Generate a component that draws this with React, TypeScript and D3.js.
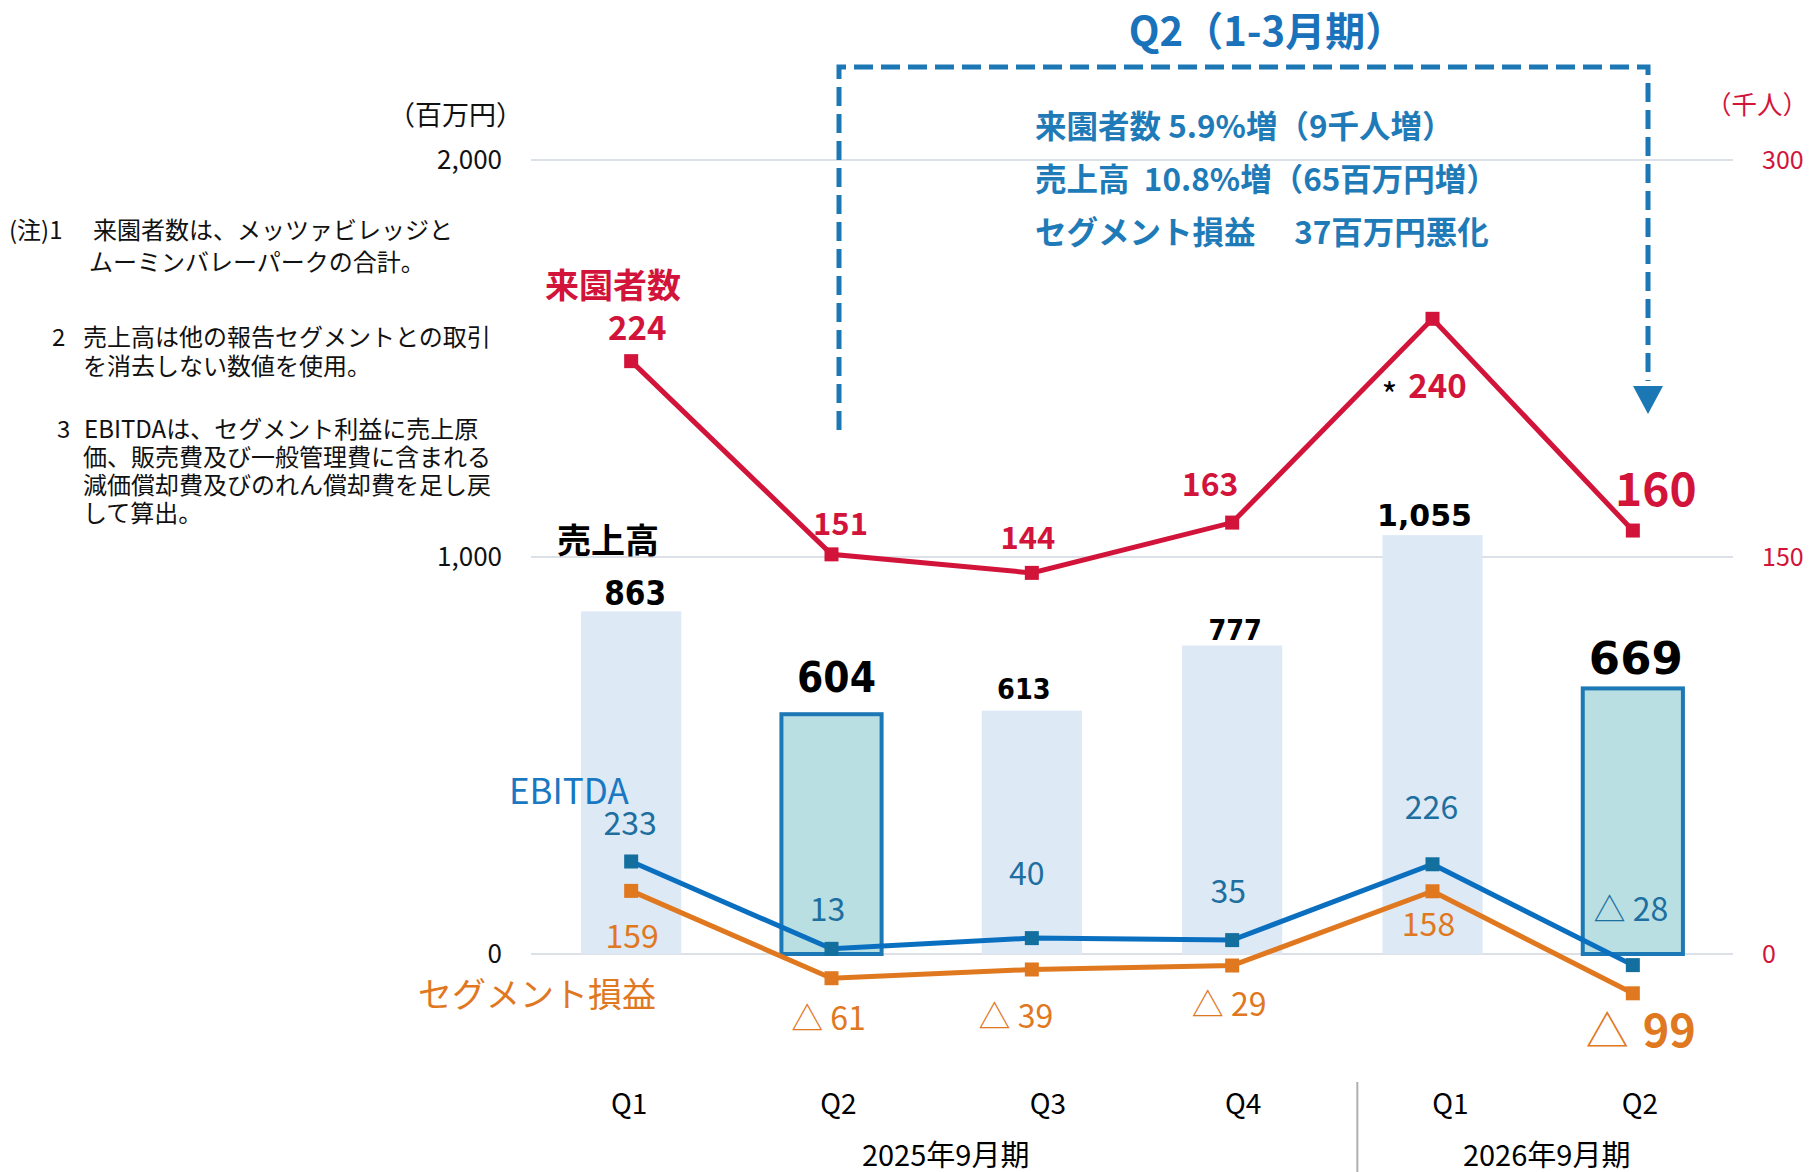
import React from "react";
import * as d3 from "d3";

// ---------- data ----------
const quarters = ["Q1", "Q2", "Q3", "Q4", "Q1", "Q2"];
const fiscalYears = ["2025年9月期", "2026年9月期"];
const fiscalGroups = [[0, 1, 2, 3], [4, 5]];
const sales = [863, 604, 613, 777, 1055, 669];
const ebitda = [233, 13, 40, 35, 226, -28];
const segment = [159, -61, -39, -29, 158, -99];
const visitors = [224, 151, 144, 163, 240, 160];
const highlighted = [false, true, false, false, false, true];
const leftTicks = [0, 1000, 2000];
const rightTicks = [0, 150, 300];
const notes = [
  { num: "(注)1", lines: ["来園者数は、メッツァビレッジと", "ムーミンバレーパークの合計。"] },
  { num: "2", lines: ["売上高は他の報告セグメントとの取引", "を消去しない数値を使用。"] },
  { num: "3", lines: ["EBITDAは、セグメント利益に売上原", "価、販売費及び一般管理費に含まれる", "減価償却費及びのれん償却費を足し戻", "して算出。"] },
];
const boxTitle = "Q2（1-3月期）";
const boxLines = ["来園者数 5.9%増（9千人増）", "売上高  10.8%増（65百万円増）", "セグメント損益　 37百万円悪化"];

// ---------- layout / style (not data) ----------
const W = 1809, H = 1172;
const JP = "'Noto Sans CJK JP', 'Noto Sans', sans-serif";
const RED = "#d2143a";
const BLUE_LINE = "#0b6fc0";
const BLUE_MARK = "#13709e";
const BLUE_TEXT = "#1d6fa0";
const ORANGE = "#e0781f";
const BOX_BLUE = "#1c78b4";

const salesFont = [33, 42, 28.5, 28.5, 30, 45];
const salesCondensed = [true, true, true, true, false, false];
const salesGap = [6, 22, 12, 6, 9, 14];
const salesDx = [4, 5, -8, 3, -8, 3];
const visFont = [33, 31, 31, 32, 33, 46];
const visDx = [6, 9, -4, -22, 5, 23];
const visDy = [-21, -19, -24, -27, 79, -25];
const ebDx = [-1, -4, -5, -4, -1, -2];
const ebDy = [-26, -28, -53, -37, -45, -44];
const segDx = [1, -3, -16, -3, -4, 8];
const segDy = [57, 52, 59, 50, 45, 54];
const qDx = [-2, 7, 16, 11, 18, 7];

const fmt = d3.format(",");
const signed = (v: number) => (v < 0 ? "△ " + fmt(-v) : fmt(v));

export default function App() {
  const yL = d3.scaleLinear().domain([0, 2000]).range([954, 160]);
  const yR = d3.scaleLinear().domain([0, 300]).range([954, 160]);
  const idx = d3.range(quarters.length);
  const x = d3.scaleBand<number>().domain(idx).range([531, 1733]).paddingInner(0.5).paddingOuter(0.25);
  const bw = x.bandwidth();
  const cx = (i: number) => (x(i) as number) + bw / 2;

  const lineL = d3.line<number>().x((_, i) => cx(i)).y((d) => yL(d));
  const lineR = d3.line<number>().x((_, i) => cx(i)).y((d) => yR(d));
  const ms = 14;

  const markers = (vals: number[], y: (v: number) => number, color: string, key: string) =>
    vals.map((v, i) => (
      <rect key={key + i} x={cx(i) - ms / 2} y={y(v) - ms / 2} width={ms} height={ms} fill={color} />
    ));

  const noteY = [[231, 263], [338, 367], [430, 458, 486, 514]];
  const noteNumX = [9, 52, 57];
  const noteTextX = [[93, 89], [83, 83], [84, 83, 83, 83]];
  const sepX = (cx(3) + cx(4)) / 2 + 25;

  return (
    <svg width={W} height={H} style={{ position: "absolute", left: 0, top: 0, background: "#fff" }} fontFamily={JP}>
      {/* grid */}
      {leftTicks.map((t) => (
        <line key={"g" + t} x1={531} x2={1733} y1={yL(t)} y2={yL(t)} stroke="#dce1e8" strokeWidth={2} />
      ))}
      {leftTicks.map((t) => (
        <text key={"lt" + t} x={502} y={yL(t) + 9} textAnchor="end" fontSize={26} fill="#111">{fmt(t)}</text>
      ))}
      {rightTicks.map((t) => (
        <text key={"rt" + t} x={1762} y={yR(t) + 9} fontSize={25} fill={RED}>{fmt(t)}</text>
      ))}
      <text x={523} y={125} textAnchor="end" fontSize={27} fill="#111">（百万円）</text>
      <text x={1808} y={114} textAnchor="end" fontSize={25.5} fill={RED}>（千人）</text>

      {/* bars */}
      {sales.map((v, i) =>
        highlighted[i] ? (
          <rect key={"b" + i} x={x(i)} y={yL(v)} width={bw} height={yL(0) - yL(v)} fill="#b9dfe3" stroke="#1c79b5" strokeWidth={4} />
        ) : (
          <rect key={"b" + i} x={x(i)} y={yL(v)} width={bw} height={yL(0) - yL(v)} fill="#dde9f5" />
        )
      )}

      {/* lines */}
      <path d={lineR(visitors) || ""} fill="none" stroke={RED} strokeWidth={5} />
      <path d={lineL(ebitda) || ""} fill="none" stroke={BLUE_LINE} strokeWidth={5} />
      <path d={lineL(segment) || ""} fill="none" stroke={ORANGE} strokeWidth={5} />
      {markers(visitors, yR, RED, "mv")}
      {markers(ebitda, yL, BLUE_MARK, "me")}
      {markers(segment, yL, ORANGE, "ms")}

      {/* sales labels */}
      {sales.map((v, i) => (
        <text
          key={"sl" + i}
          x={cx(i) + salesDx[i]}
          y={yL(v) - salesGap[i]}
          textAnchor="middle"
          fontSize={salesFont[i]}
          fontWeight={700}
          fontFamily={salesCondensed[i] ? "'DejaVu Sans Condensed', 'DejaVu Sans', sans-serif" : "'DejaVu Sans', sans-serif"}
          style={{ fontStretch: salesCondensed[i] ? "condensed" : "normal" }}
          fill="#000"
        >
          {fmt(v)}
        </text>
      ))}

      {/* visitor labels */}
      {visitors.map((v, i) => (
        <text key={"vl" + i} x={cx(i) + visDx[i]} y={yR(v) + visDy[i]} textAnchor="middle" fontSize={visFont[i]} fontWeight={700} fill={RED}>
          {fmt(v)}
        </text>
      ))}
      <text x={cx(4) + visDx[4] - 48} y={yR(visitors[4]) + visDy[4] + 10} textAnchor="middle" fontSize={34} fill="#000">*</text>

      {/* EBITDA labels */}
      {ebitda.map((v, i) => (
        <text key={"el" + i} x={cx(i) + ebDx[i]} y={yL(v) + ebDy[i]} textAnchor="middle" fontSize={32} fill={BLUE_TEXT}>
          {signed(v)}
        </text>
      ))}

      {/* segment labels */}
      {segment.map((v, i) =>
        i === segment.length - 1 ? (
          <text key={"sg" + i} x={cx(i) + segDx[i]} y={yL(v) + segDy[i]} textAnchor="middle" fill={ORANGE}>
            <tspan fontSize={43}>△</tspan>
            <tspan fontSize={45} fontWeight={700} dx={14}>{fmt(-v)}</tspan>
          </text>
        ) : (
          <text key={"sg" + i} x={cx(i) + segDx[i]} y={yL(v) + segDy[i]} textAnchor="middle" fontSize={32} fill={ORANGE}>
            {signed(v)}
          </text>
        )
      )}

      {/* series names */}
      <text x={613} y={298} textAnchor="middle" fontSize={34} fontWeight={700} fill={RED}>来園者数</text>
      <text x={608} y={553} textAnchor="middle" fontSize={34} fontWeight={700} fill="#000">売上高</text>
      <text x={509} y={804} fontSize={35} fill="#1a78c2">EBITDA</text>
      <text x={418} y={1007} fontSize={34} fill={ORANGE}>セグメント損益</text>

      {/* x axis */}
      {quarters.map((q, i) => (
        <text key={"q" + i} x={cx(i) + qDx[i]} y={1114} textAnchor="middle" fontSize={28} fill="#000">{q}</text>
      ))}
      {fiscalYears.map((f, k) => {
        const g = fiscalGroups[k];
        const mid = (cx(g[0]) + cx(g[g.length - 1])) / 2;
        return (
          <text key={"fy" + k} x={mid + 14} y={1166} textAnchor="middle" fontSize={29} fill="#000">{f}</text>
        );
      })}
      <line x1={sepX} x2={sepX} y1={1082} y2={H} stroke="#b0b0b0" strokeWidth={2} />

      {/* notes */}
      {notes.map((n, k) => (
        <g key={"n" + k} fontSize={24} fill="#111">
          <text x={noteNumX[k]} y={noteY[k][0] + 8}>{n.num}</text>
          {n.lines.map((l, j) => (
            <text key={j} x={noteTextX[k][j]} y={noteY[k][j] + 8}>{l}</text>
          ))}
        </g>
      ))}

      {/* Q2 callout box */}
      <text x={1267} y={46} textAnchor="middle" fontSize={40} fontWeight={700} fill="#1a72bb">{boxTitle}</text>
      <path d="M839,430 V67 H1648 V381" fill="none" stroke={BOX_BLUE} strokeWidth={5} strokeDasharray="19 8" />
      <polygon points="1633,386 1663,386 1648,414" fill={BOX_BLUE} />
      {boxLines.map((l, j) => (
        <text key={"bl" + j} x={1035} y={138 + j * 53} fontSize={31.5} fontWeight={700} fill="#1f7bb8" style={{ whiteSpace: "pre" }}>
          {l}
        </text>
      ))}
    </svg>
  );
}
